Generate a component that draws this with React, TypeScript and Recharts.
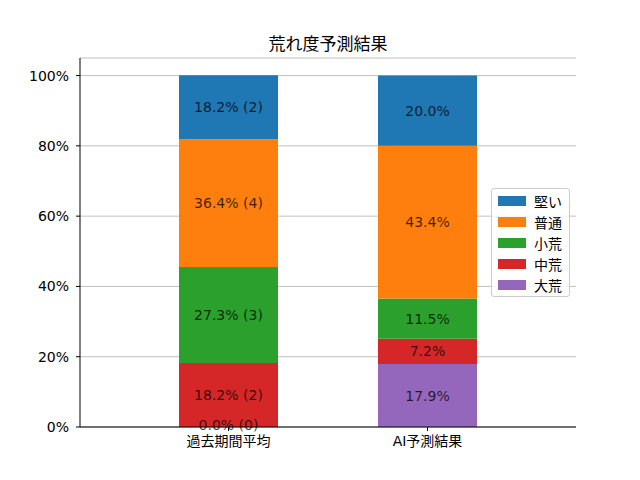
import React from "react";
import {
  BarChart,
  Bar,
  XAxis,
  YAxis,
  CartesianGrid,
  LabelList,
  Legend,
} from "recharts";

const categories = ["過去期間平均", "AI予測結果"];

// 積み上げ順（下から）
const seriesNames = ["大荒", "中荒", "小荒", "普通", "堅い"];
const seriesColors = ["#9467bd", "#d62728", "#2ca02c", "#ff7f0e", "#1f77b4"];

const ooareValues = [0.0, 17.9];
const chuuareValues = [18.2, 7.2];
const shouareValues = [27.3, 11.5];
const futsuuValues = [36.4, 43.4];
const kataiValues = [18.2, 20.0];

// 過去期間のレース数（AI予測は件数なし）
const ooareCounts = [0, null];
const chuuareCounts = [2, null];
const shouareCounts = [3, null];
const futsuuCounts = [4, null];
const kataiCounts = [2, null];

const yTicks = [0, 20, 40, 60, 80, 100];

const FONT = "'DejaVu Sans', 'Noto Sans CJK JP', sans-serif";

const seriesValues = [ooareValues, chuuareValues, shouareValues, futsuuValues, kataiValues];
const seriesCounts = [ooareCounts, chuuareCounts, shouareCounts, futsuuCounts, kataiCounts];

const data = categories.map((name, i) => {
  const row: Record<string, string | number> = { name };
  seriesNames.forEach((s, k) => {
    const v = seriesValues[k][i];
    const c = seriesCounts[k][i];
    row[s] = v;
    row[s + "_label"] = c === null ? `${v.toFixed(1)}%` : `${v.toFixed(1)}% (${c})`;
  });
  return row;
});

const labelText = (x: number, y: number, value: any) => (
  <text
    x={x}
    y={y}
    textAnchor="middle"
    dominantBaseline="central"
    fontSize={14}
    fontFamily={FONT}
    fill="#000"
    fillOpacity={0.75}
  >
    {value}
  </text>
);

const SegmentLabel = (props: any) => {
  const { x, y, width, height, value } = props;
  if (!height) return null;
  return labelText(x + width / 2, y + height / 2, value);
};

// 高さ0の「大荒」セグメントはバーが描かれないので、一つ上の段の下端にラベルを置く
const ZeroLabel = (props: any) => {
  const { x, y, width, height, value, index } = props;
  if (ooareValues[index] !== 0) return null;
  return labelText(x + width / 2, y + height - 2, value);
};

const LegendBox = () => (
  <div
    style={{
      border: "1px solid #cccccc",
      borderRadius: 3,
      background: "rgba(255,255,255,0.8)",
      padding: "1px 6px",
      fontFamily: FONT,
      fontSize: 14,
      boxSizing: "border-box",
      width: 79,
    }}
  >
    {[...seriesNames].reverse().map((s, k) => (
      <div key={s} style={{ display: "flex", alignItems: "center", height: 21 }}>
        <span
          style={{
            display: "inline-block",
            width: 28,
            height: 10,
            marginRight: 8,
            background: seriesColors[seriesNames.length - 1 - k],
          }}
        />
        <span style={{ color: "#000" }}>{s}</span>
      </div>
    ))}
  </div>
);

export default function App() {
  return (
    <div style={{ position: "fixed", left: 0, top: 0, width: 640, height: 480, background: "#fff" }}>
      <div
        style={{
          position: "absolute",
          left: 80,
          width: 496,
          top: 33,
          textAlign: "center",
          fontFamily: FONT,
          fontSize: 17,
          lineHeight: "22px",
          color: "#000",
        }}
      >
        荒れ度予測結果
      </div>
      <BarChart
        width={640}
        height={480}
        data={data}
        margin={{ top: 58, right: 64, bottom: 23, left: 20 }}
        barCategoryGap={0}
      >
        <CartesianGrid horizontal vertical={false} stroke="#b0b0b0" strokeWidth={0.8} />
        <XAxis
          dataKey="name"
          height={30}
          padding={{ left: 49, right: 49 }}
          tickSize={4}
          tickMargin={5}
          stroke="#000"
          tick={{ fill: "#000", fontSize: 14, fontFamily: FONT }}
        />
        <XAxis xAxisId="top" orientation="top" height={0} tick={false} tickLine={false} stroke="#000" />
        <YAxis
          domain={[0, 105]}
          ticks={yTicks}
          width={60}
          tickSize={4}
          tickMargin={7}
          stroke="#000"
          tickFormatter={(v: number) => `${v}%`}
          tick={{ fill: "#000", fontSize: 14, fontFamily: FONT }}
        />
        <YAxis
          yAxisId="right"
          orientation="right"
          width={0}
          tick={false}
          tickLine={false}
          stroke="#000"
        />
        <Legend
          layout="horizontal"
          verticalAlign="middle"
          align="center"
          content={() => <LegendBox />}
          wrapperStyle={{ left: 491, top: 188, width: 79, height: 109 }}
        />
        {seriesNames.map((s, k) => (
          <Bar
            key={s}
            dataKey={s}
            stackId="a"
            fill={seriesColors[k]}
            barSize={99}
            isAnimationActive={false}
          >
            <LabelList dataKey={s + "_label"} content={SegmentLabel} />
            {s === "中荒" && <LabelList dataKey="大荒_label" content={ZeroLabel} />}
          </Bar>
        ))}
      </BarChart>
    </div>
  );
}
